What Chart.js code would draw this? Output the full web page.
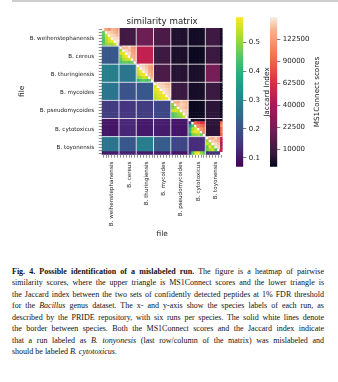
<!DOCTYPE html>
<html>
<head>
<meta charset="utf-8">
<script src="https://cdn.jsdelivr.net/npm/chart.js@4.4.1/dist/chart.umd.min.js"></script>
<style>
  html, body { margin: 0; padding: 0; background: #fff; }
  body { width: 338px; height: 382px; position: relative; overflow: hidden; font-family: "DejaVu Sans", sans-serif; }
  .topline { position: absolute; left: 12px; top: 0; width: 326px; height: 2px; background: #cdcdcd; }
  canvas { position: absolute; top: 0; }
  #heat { left: 0; }
  #cbJac { left: 230px; }
  #cbMs1 { left: 264px; }
  .cblabel { position: absolute; transform: translate(-50%, -50%) rotate(-90deg); white-space: nowrap; color: #222; }
  .caption { position: absolute; left: 12px; top: 265.5px; width: 312px; font-family: "Liberation Serif", serif; font-size: 8px; line-height: 11.5px; color: #111; }
  .caption div { text-align: justify; text-align-last: justify; white-space: nowrap; }
  .caption div.last { text-align-last: left; }
</style>
</head>
<body>
<div class="topline"></div>
<canvas id="heat" width="232" height="245"></canvas>
<canvas id="cbJac" width="40" height="180"></canvas>
<canvas id="cbMs1" width="54" height="180"></canvas>
<div class="cblabel" style="left:266px; top:92px; font-size:7.4px;">Jaccard Index</div>
<div class="cblabel" style="left:315.5px; top:92px; font-size:7.2px;">MS1Connect scores</div>
<div class="caption">
  <div><b>Fig. 4. Possible identification of a mislabeled run.</b> The figure is a heatmap of pairwise</div>
  <div>similarity scores, where the upper triangle is MS1Connect scores and the lower triangle is</div>
  <div>the Jaccard index between the two sets of confidently detected peptides at 1% FDR threshold</div>
  <div>for the <i>Bacillus</i> genus dataset. The x- and y-axis show the species labels of each run, as</div>
  <div>described by the PRIDE repository, with six runs per species. The solid white lines denote</div>
  <div>the border between species. Both the MS1Connect scores and the Jaccard index indicate</div>
  <div>that a run labeled as <i>B. tonyonesis</i> (last row/column of the matrix) was mislabeled and</div>
  <div class="last">should be labeled <i>B. cytotoxicus</i>.</div>
</div>
<script>
const species = ['B. weihenstephanensis', 'B. cereus', 'B. thuringiensis', 'B. mycoides',
  'B. pseudomycoides', 'B. cytotoxicus', 'B. toyonensis'];
const runsPerSpecies = 6;

// Jaccard index between species (lower triangle): row species vs each earlier species
const jaccardBetween = [
  [],
  [0.21],
  [0.29, 0.27],
  [0.27, 0.20, 0.21],
  [0.16, 0.15, 0.16, 0.18],
  [0.10, 0.125, 0.105, 0.11, 0.10],
  [0.27, 0.21, 0.29, 0.22, 0.18, 0.135]
];
// MS1Connect scores between species (upper triangle): row species vs each later species
const ms1Between = [
  [10200, 20100, 12400, 6000, 5000, 9600],
  [50000, 9600, 5500, 4400, 9000],
  [12400, 6400, 5500, 23000],
  [9000, 5200, 9000],
  [4200, 7000],
  [7000],
  []
];

// within-species pairs, 15 per species
// lower: (1,0) (2,0) (2,1) (3,0) (3,1) (3,2) (4,0) .. (5,4)
const jaccardWithin = [
  [0.47, 0.46, 0.55, 0.45, 0.53, 0.57, 0.44, 0.52, 0.56, 0.58, 0.46, 0.50, 0.52, 0.51, 0.55],
  [0.52, 0.56, 0.57, 0.50, 0.56, 0.58, 0.47, 0.53, 0.55, 0.56, 0.44, 0.46, 0.47, 0.45, 0.48],
  [0.56, 0.55, 0.58, 0.54, 0.57, 0.58, 0.50, 0.52, 0.55, 0.54, 0.40, 0.44, 0.46, 0.43, 0.45],
  [0.56, 0.57, 0.58, 0.55, 0.57, 0.58, 0.54, 0.56, 0.57, 0.58, 0.53, 0.55, 0.56, 0.57, 0.58],
  [0.50, 0.48, 0.52, 0.55, 0.56, 0.54, 0.45, 0.47, 0.50, 0.52, 0.44, 0.46, 0.48, 0.50, 0.55],
  [0.14, 0.32, 0.45, 0.40, 0.52, 0.55, 0.42, 0.55, 0.58, 0.56, 0.35, 0.48, 0.50, 0.52, 0.47],
  [0.50, 0.55, 0.52, 0.45, 0.58, 0.50, 0.47, 0.52, 0.55, 0.45, 0.13, 0.15, 0.14, 0.16, 0.14]
];
// upper: (0,1) .. (0,5) (1,2) .. (1,5) (2,3) (2,4) (2,5) (3,4) (3,5) (4,5)
const ms1Within = [
  [128000, 110000, 140000, 135000, 118000, 150000, 145000, 138000, 130000, 152000, 147000, 140000, 155000, 150000, 156000],
  [140000, 135000, 148000, 120000, 112000, 150000, 142000, 125000, 118000, 152000, 130000, 122000, 136000, 128000, 134000],
  [150000, 148000, 140000, 130000, 120000, 152000, 145000, 128000, 118000, 150000, 132000, 125000, 140000, 130000, 138000],
  [150000, 148000, 145000, 140000, 138000, 152000, 150000, 145000, 142000, 155000, 150000, 146000, 152000, 148000, 150000],
  [135000, 128000, 145000, 140000, 132000, 140000, 150000, 145000, 138000, 148000, 142000, 136000, 150000, 145000, 148000],
  [5000, 6000, 5500, 5000, 4500, 90000, 75000, 65000, 60000, 110000, 95000, 85000, 120000, 100000, 105000],
  [140000, 130000, 150000, 125000, 45000, 148000, 140000, 135000, 50000, 152000, 145000, 42000, 150000, 48000, 52000]
];

// the mislabeled last run against the B. cytotoxicus runs and the other species
const lastRunJaccardCyto = [0.16, 0.46, 0.56, 0.58, 0.50, 0.44];
const lastRunMs1Cyto = [6000, 95000, 110000, 90000, 100000, 85000];
const lastRunJaccardOthers = [0.11, 0.12, 0.11, 0.11, 0.10];
const lastRunMs1Others = [5000, 4800, 5200, 4600, 4200];

// colour bar limits and ticks
const jaccardMin = 0.069, jaccardMax = 0.587;
const ms1Min = 3670, ms1Max = 159400;
const jaccardTicks = [0.1, 0.2, 0.3, 0.4, 0.5];
const ms1Ticks = [10000, 22500, 40000, 62500, 90000, 122500];

const runCount = species.length * runsPerSpecies;
const runLabels = Array.from({length: runCount}, (_, i) =>
  species[Math.floor(i / runsPerSpecies)] + ' ' + (i % runsPerSpecies + 1));

const viridis = [[0, '#440154'], [0.125, '#472d7b'], [0.25, '#3b528b'], [0.375, '#2c728e'], [0.5, '#21918c'],
  [0.625, '#28ae80'], [0.75, '#5ec962'], [0.875, '#addc30'], [1, '#fde725']];
const rocket = [[0, '#03051a'], [0.083, '#35193e'], [0.25, '#701f57'], [0.417, '#ad1759'], [0.583, '#e13342'],
  [0.75, '#f37651'], [0.917, '#f6b48f'], [1, '#faebdd']];

function hexRgb(h) {
  return [parseInt(h.slice(1, 3), 16), parseInt(h.slice(3, 5), 16), parseInt(h.slice(5, 7), 16)];
}
function sample(stops, t) {
  t = Math.max(0, Math.min(1, t));
  for (let k = 1; k < stops.length; k++) {
    if (t <= stops[k][0]) {
      const [p0, c0] = stops[k - 1], [p1, c1] = stops[k];
      const f = (t - p0) / (p1 - p0);
      const a = hexRgb(c0), b = hexRgb(c1);
      return 'rgb(' + a.map((v, i) => Math.round(v + (b[i] - v) * f)).join(',') + ')';
    }
  }
  return stops[stops.length - 1][1];
}

function upperIndex(i, j) {
  return i * 5 - i * (i - 1) / 2 + (j - i - 1);
}

function cellValue(r, c) {
  if (r === c) return null;
  const bi = Math.floor(r / runsPerSpecies), bj = Math.floor(c / runsPerSpecies);
  const lower = r > c;
  const last = runCount - 1;
  if ((r === last || c === last) && bi !== bj) {
    const other = r === last ? c : r;
    const ob = Math.floor(other / runsPerSpecies);
    if (ob === 5) {
      const k = other % runsPerSpecies;
      return lower ? lastRunJaccardCyto[k] : lastRunMs1Cyto[k];
    }
    return lower ? lastRunJaccardOthers[ob] : lastRunMs1Others[ob];
  }
  if (bi === bj) {
    const i = r % runsPerSpecies, j = c % runsPerSpecies;
    return lower ? jaccardWithin[bi][i * (i - 1) / 2 + j] : ms1Within[bi][upperIndex(i, j)];
  }
  return lower ? jaccardBetween[bi][bj] : ms1Between[bi][bj - bi - 1];
}

function cellColor(r, c) {
  const v = cellValue(r, c);
  if (v === null) return 'rgba(0,0,0,0)';
  if (r > c) return sample(viridis, (v - jaccardMin) / (jaccardMax - jaccardMin));
  const lo = Math.sqrt(ms1Min), hi = Math.sqrt(ms1Max);
  return sample(rocket, (Math.sqrt(v) - lo) / (hi - lo));
}

Chart.defaults.font.family = "'DejaVu Sans', sans-serif";
Chart.defaults.color = '#222';

// one dataset per column, one floating bar per row
const datasets = runLabels.map((_, c) => ({
  data: runLabels.map((_, r) => r === c ? null : [c, c + 1]),
  backgroundColor: runLabels.map((_, r) => cellColor(r, c)),
  borderWidth: 0,
  grouped: false,
  barPercentage: 1,
  categoryPercentage: 1
}));

const blockLines = {
  id: 'blockLines',
  afterDatasetsDraw(chart) {
    const {ctx, chartArea: a, scales: {x, y}} = chart;
    ctx.save();
    ctx.strokeStyle = 'rgba(255,255,255,0.8)';
    ctx.lineWidth = 1;
    for (let k = 1; k < species.length; k++) {
      const px = x.getPixelForValue(k * runsPerSpecies);
      const py = (y.getPixelForValue(k * runsPerSpecies - 1) + y.getPixelForValue(k * runsPerSpecies)) / 2;
      ctx.beginPath(); ctx.moveTo(px, a.top); ctx.lineTo(px, a.bottom); ctx.stroke();
      ctx.beginPath(); ctx.moveTo(a.left, py); ctx.lineTo(a.right, py); ctx.stroke();
    }
    ctx.restore();
  }
};

const labelAt = i => i % runsPerSpecies === 3 ? species[Math.floor(i / runsPerSpecies)] : '';

new Chart(document.getElementById('heat'), {
  type: 'bar',
  data: { labels: runLabels, datasets },
  plugins: [blockLines],
  options: {
    indexAxis: 'y',
    responsive: false,
    animation: false,
    layout: { padding: { top: 12, right: 4, left: 0, bottom: 0 } },
    plugins: { legend: { display: false }, tooltip: { enabled: false } },
    scales: {
      x: {
        type: 'linear', position: 'bottom', min: 0, max: runCount,
        afterBuildTicks: s => { s.ticks = runLabels.map((_, c) => ({ value: c + 0.5 })); },
        afterFit: s => { s.height = 90.3; },
        ticks: { autoSkip: false, minRotation: 90, maxRotation: 90, padding: 4, font: { size: 5.6 },
          callback: v => labelAt(Math.floor(v)) },
        grid: { drawOnChartArea: false, tickLength: 3, color: '#444', lineWidth: 0.6 },
        border: { display: false },
        title: { display: true, text: 'file', font: { size: 7.4 }, padding: { top: 0, bottom: 6.5 } }
      },
      y: {
        type: 'category', position: 'left', offset: true,
        afterFit: s => { s.width = 101.7; },
        ticks: { autoSkip: false, padding: 4.5, font: { size: 5.6 }, callback: (v, i) => labelAt(i) },
        grid: { offset: false, drawOnChartArea: false, tickLength: 3, color: '#444', lineWidth: 0.6 },
        border: { display: false },
        title: { display: true, text: 'file', font: { size: 7.4 }, padding: { top: 17.5, bottom: 0 } }
      },
      x2: {
        axis: 'x', type: 'linear', position: 'top', min: 0, max: 1,
        ticks: { display: false }, grid: { display: false }, border: { display: false },
        afterFit: s => { s.height = 16; },
        title: { display: true, text: 'similarity matrix', font: { size: 8.7 }, padding: { top: 5, bottom: 0 } }
      }
    }
  }
});

function colorbar(id, lo, hi, stops, ticks, fmt, axisWidth) {
  new Chart(document.getElementById(id), {
    type: 'bar',
    data: {
      labels: [''],
      datasets: [{
        data: [[lo, hi]],
        backgroundColor: ctx => {
          const area = ctx.chart.chartArea;
          if (!area) return null;
          const g = ctx.chart.ctx.createLinearGradient(0, area.bottom, 0, area.top);
          stops.forEach(([p, col]) => g.addColorStop(p, col));
          return g;
        },
        borderWidth: 0, barPercentage: 1, categoryPercentage: 1
      }]
    },
    options: {
      responsive: false,
      animation: false,
      layout: { padding: { left: 6, top: 17.3, bottom: 13.3, right: 0 } },
      plugins: { legend: { display: false }, tooltip: { enabled: false } },
      scales: {
        x: { display: false },
        y: {
          position: 'right', min: lo, max: hi,
          afterBuildTicks: s => { s.ticks = ticks.map(v => ({ value: v })); },
          afterFit: s => { s.width = axisWidth; },
          ticks: { callback: fmt, font: { size: 7 }, padding: 2.5 },
          grid: { drawOnChartArea: false, tickLength: 3, color: '#444', lineWidth: 0.7 },
          border: { display: false }
        }
      }
    }
  });
}

colorbar('cbJac', jaccardMin, jaccardMax, viridis, jaccardTicks, v => v.toFixed(1), 26.7);
colorbar('cbMs1', Math.sqrt(ms1Min), Math.sqrt(ms1Max), rocket, ms1Ticks.map(Math.sqrt),
  v => String(Math.round(v * v)), 40.7);
</script>
</body>
</html>
